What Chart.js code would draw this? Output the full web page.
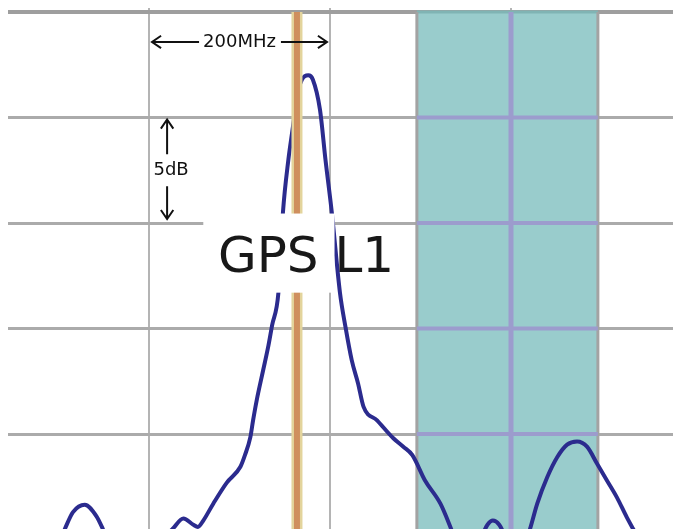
<!DOCTYPE html>
<html>
<head>
<meta charset="utf-8">
<script src="https://cdn.jsdelivr.net/npm/chart.js@4.4.1/dist/chart.umd.min.js"></script>
<style>
html,body{margin:0;padding:0;background:#fff;}
#wrap{width:673px;height:529px;position:relative;}
</style>
</head>
<body>
<div id="wrap"><canvas id="c" width="673" height="529"></canvas></div>
<script>
// ---- data ----
const freqMHz = [1268,1302,1307,1316,1329,1342,1349,1357,1390,1426,1438,1449,1454,1460,1471,1486,1501,1506,1512,1515,1519,1526,1532,1536,1543,1548,1554,1559,1564,1569,1576,1581,1589,1595,1602,1611,1617,1624,1631,1637,1652,1670,1681,1691,1705,1722,1733,1741,1755,1768,1774,1780,1787,1793,1800,1813,1821,1829,1840,1851,1862,1873,1884,1895,1906,1917,1928,1935,1948];
const levelDb = [-26.0,-25.0,-24.5,-23.7,-23.35,-23.9,-24.5,-25.3,-26.0,-24.5,-24.0,-24.3,-24.4,-24.1,-23.3,-22.3,-21.55,-21.0,-20.15,-19.35,-18.4,-17.0,-15.8,-14.85,-13.3,-9.5,-7.0,-5.45,-3.85,-3.2,-3.0,-3.2,-4.65,-7.0,-9.5,-13.3,-14.9,-16.5,-17.6,-18.7,-19.35,-20.2,-20.6,-21.0,-22.2,-23.3,-24.4,-25.3,-25.6,-24.8,-24.3,-24.1,-24.3,-24.8,-25.5,-25.5,-24.5,-23.3,-22.05,-21.1,-20.5,-20.35,-20.6,-21.4,-22.2,-23.0,-23.95,-24.5,-25.5];
const xGridMHz = [1400, 1600, 1800];
const yGridDb = [0, -5, -10, -15, -20];
const bandMHz = [1696, 1896];
const markerMHz = 1563.5;
const xRange = [1244.2, 1979.0];
const yRange = [-24.5, 0.19];

const spanText = '200MHz';
const spanFromTo = [1400, 1600];
const spanAtDb = -1.42;
const stepText = '5dB';
const stepAtMHz = 1420;
const stepFromTo = [-5, -10];
const mainText = 'GPS L1';
const mainTextAt = [1573.5, -12.32];
const boxMHz = [1460, 1605];
const boxDb = [-9.55, -13.3];

// ---- build datasets ----
const curve = freqMHz.map((f, i) => ({x: f, y: levelDb[i]}));
const yTop = 0, yBottom = yRange[0];
const vline = (xv) => [{x: xv, y: yTop}, {x: xv, y: yBottom}];

const base = {pointRadius: 0, fill: false, tension: 0};
const datasets = [];
// top-most first
datasets.push({...base, data: vline(markerMHz), borderColor: '#cf8f5e', borderWidth: 6});
datasets.push({...base, data: vline(markerMHz), borderColor: '#e3d49c', borderWidth: 11});
datasets.push({...base, data: curve, borderColor: '#2b2b8e', borderWidth: 4, cubicInterpolationMode: 'monotone'});
// purple grid lines inside the band
xGridMHz.filter(v => v > bandMHz[0] && v < bandMHz[1]).forEach(v => {
  datasets.push({...base, data: vline(v), borderColor: '#9c9ccd', borderWidth: 5});
});
yGridDb.filter(v => v < 0).forEach(v => {
  datasets.push({...base, data: [{x: bandMHz[0], y: v}, {x: bandMHz[1], y: v}], borderColor: '#9c9ccd', borderWidth: 4});
});
// band edges
bandMHz.forEach(v => {
  datasets.push({...base, data: vline(v), borderColor: '#a3a3a3', borderWidth: 3});
});
// band fill
datasets.push({...base, data: [{x: bandMHz[0], y: yTop}, {x: bandMHz[1], y: yTop}],
  borderColor: '#80b4b4', borderWidth: 3, fill: 'start', backgroundColor: '#99cccc'});

function arrow(ctx, x1, y1, x2, y2) {
  const a = Math.atan2(y2 - y1, x2 - x1), h = 11, s = 0.6;
  ctx.beginPath();
  ctx.moveTo(x1, y1); ctx.lineTo(x2, y2);
  ctx.moveTo(x2 - h * Math.cos(a - s), y2 - h * Math.sin(a - s));
  ctx.lineTo(x2, y2);
  ctx.lineTo(x2 - h * Math.cos(a + s), y2 - h * Math.sin(a + s));
  ctx.stroke();
}

const labelPlugin = {
  id: 'labels',
  afterDatasetsDraw(chart) {
    const {ctx, scales: {x, y}} = chart;
    ctx.save();
    // white label box
    const bx1 = x.getPixelForValue(boxMHz[0]), bx2 = x.getPixelForValue(boxMHz[1]);
    const by1 = y.getPixelForValue(boxDb[0]), by2 = y.getPixelForValue(boxDb[1]);
    ctx.fillStyle = '#ffffff';
    ctx.fillRect(bx1, by1, bx2 - bx1, by2 - by1);
    // main label
    ctx.fillStyle = '#181818';
    ctx.font = '50px "DejaVu Sans"';
    ctx.textAlign = 'center';
    ctx.textBaseline = 'alphabetic';
    ctx.fillText(mainText, x.getPixelForValue(mainTextAt[0]), y.getPixelForValue(mainTextAt[1]));

    // span arrow
    ctx.font = '18px "DejaVu Sans"';
    ctx.textBaseline = 'middle';
    ctx.strokeStyle = '#111';
    ctx.fillStyle = '#111';
    ctx.lineWidth = 2;
    const sx1 = x.getPixelForValue(spanFromTo[0]), sx2 = x.getPixelForValue(spanFromTo[1]);
    const sy = y.getPixelForValue(spanAtDb);
    const cx = (sx1 + sx2) / 2;
    const w = ctx.measureText(spanText).width;
    ctx.fillText(spanText, cx, sy);
    arrow(ctx, cx - w / 2 - 4, sy, sx1 + 3, sy);
    arrow(ctx, cx + w / 2 + 5, sy, sx2 - 3, sy);

    // step arrow
    const ax = x.getPixelForValue(stepAtMHz);
    const ay1 = y.getPixelForValue(stepFromTo[0]), ay2 = y.getPixelForValue(stepFromTo[1]);
    const cy = (ay1 + ay2) / 2;
    ctx.fillText(stepText, ax + 4, cy);
    arrow(ctx, ax, cy - 16, ax, ay1 + 2);
    arrow(ctx, ax, cy + 16, ax, ay2 - 4);
    ctx.restore();
  }
};

new Chart(document.getElementById('c'), {
  type: 'line',
  data: {datasets},
  options: {
    responsive: false,
    animation: false,
    devicePixelRatio: 1,
    layout: {padding: {left: 8, top: 8, right: 0, bottom: 0}},
    plugins: {legend: {display: false}, tooltip: {enabled: false}},
    scales: {
      x: {
        type: 'linear', min: xRange[0], max: xRange[1],
        afterBuildTicks: ax => { ax.ticks = xGridMHz.map(v => ({value: v})); },
        ticks: {display: false},
        border: {display: false},
        grid: {drawTicks: false, color: '#b4b4b4', lineWidth: 2}
      },
      y: {
        type: 'linear', min: yRange[0], max: yRange[1],
        afterBuildTicks: ax => { ax.ticks = yGridDb.map(v => ({value: v})); },
        ticks: {display: false},
        border: {display: false},
        grid: {
          drawTicks: false,
          color: c => (c.tick && c.tick.value === 0) ? '#9e9e9e' : '#ababab',
          lineWidth: c => (c.tick && c.tick.value === 0) ? 4 : 3
        }
      }
    }
  },
  plugins: [labelPlugin]
});
</script>
</body>
</html>
